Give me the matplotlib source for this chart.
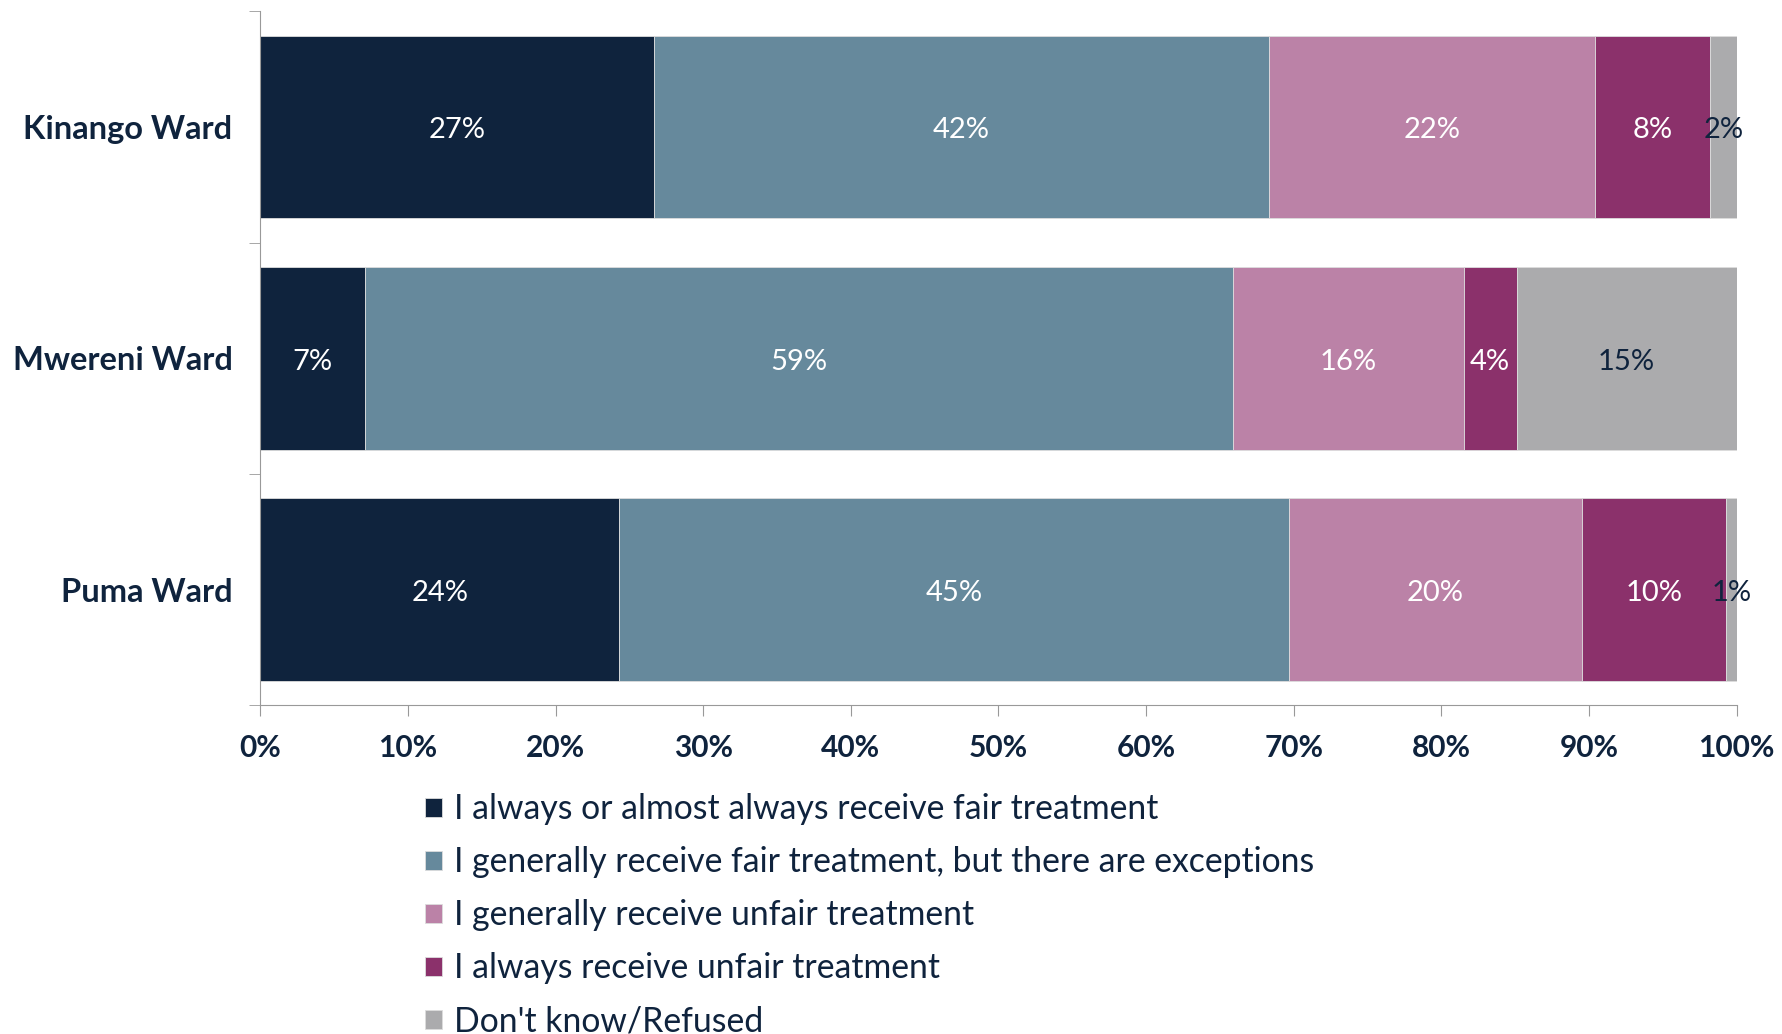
import matplotlib.pyplot as plt
import numpy as np

plt.rcParams['font.family'] = ['Lato', 'DejaVu Sans']

wards = ["Kinango Ward", "Mwereni Ward", "Puma Ward"]
categorias = [
    "I always or almost always receive fair treatment",
    "I generally receive fair treatment, but there are exceptions",
    "I generally receive unfair treatment",
    "I always receive unfair treatment",
    "Don't know/Refused",
]
# percent per ward, in category order
always_fair = [26.7, 7.1, 24.3]
generally_fair = [41.6, 58.8, 45.4]
generally_unfair = [22.1, 15.6, 19.8]
always_unfair = [7.8, 3.6, 9.8]
dont_know = [1.8, 14.9, 0.7]

cores = ["#0F233D", "#66899C", "#BB82A7", "#8B316B", "#ABABAD"]
cor_texto = ["white", "white", "white", "white", "#0F233D"]
navy = "#0F233D"

series = [always_fair, generally_fair, generally_unfair, always_unfair, dont_know]

fig = plt.figure(figsize=(17.83, 10.34), dpi=100)
ax = fig.add_axes([0.146, 0.318, 0.828, 0.671])

y = np.arange(len(wards))
left = np.zeros(len(wards))
for vals, cor, ct, nome in zip(series, cores, cor_texto, categorias):
    vals = np.array(vals)
    ax.barh(y, vals, left=left, height=0.79, color=cor, label=nome,
            edgecolor="#dddddd", linewidth=0.6)
    for yi, l, v in zip(y, left, vals):
        ax.text(l + v / 2, yi + 0.015, f"{v:.0f}%", ha="center", va="center",
                color=ct, fontsize=21)
    left += vals

ax.set_xlim(0, 100)
ax.set_ylim(2.5, -0.5)
ax.set_xticks(np.arange(0, 101, 10))
ax.set_xticklabels([f"{t}%" for t in range(0, 101, 10)], fontsize=21.5,
                   fontweight="bold", color=navy)
ax.set_yticks(y)
ax.set_yticklabels(wards, fontsize=23.5, fontweight="bold", color=navy)
ax.set_yticks([-0.5, 0.5, 1.5, 2.5], minor=True)
ax.tick_params(axis="y", which="major", length=0, pad=20)
ax.tick_params(axis="y", which="minor", length=8, color="#999999")
ax.tick_params(axis="x", length=8, color="#999999", pad=13)

for s in ["top", "right"]:
    ax.spines[s].set_visible(False)
for s in ["left", "bottom"]:
    ax.spines[s].set_color("#999999")

fig.legend(loc="upper left", bbox_to_anchor=(0.229, 0.249), frameon=False,
           fontsize=24.3, labelcolor=navy, handlelength=0.5, handleheight=0.5,
           handletextpad=0.35, labelspacing=0.62, borderpad=0)

plt.savefig("out.png")
plt.close()
